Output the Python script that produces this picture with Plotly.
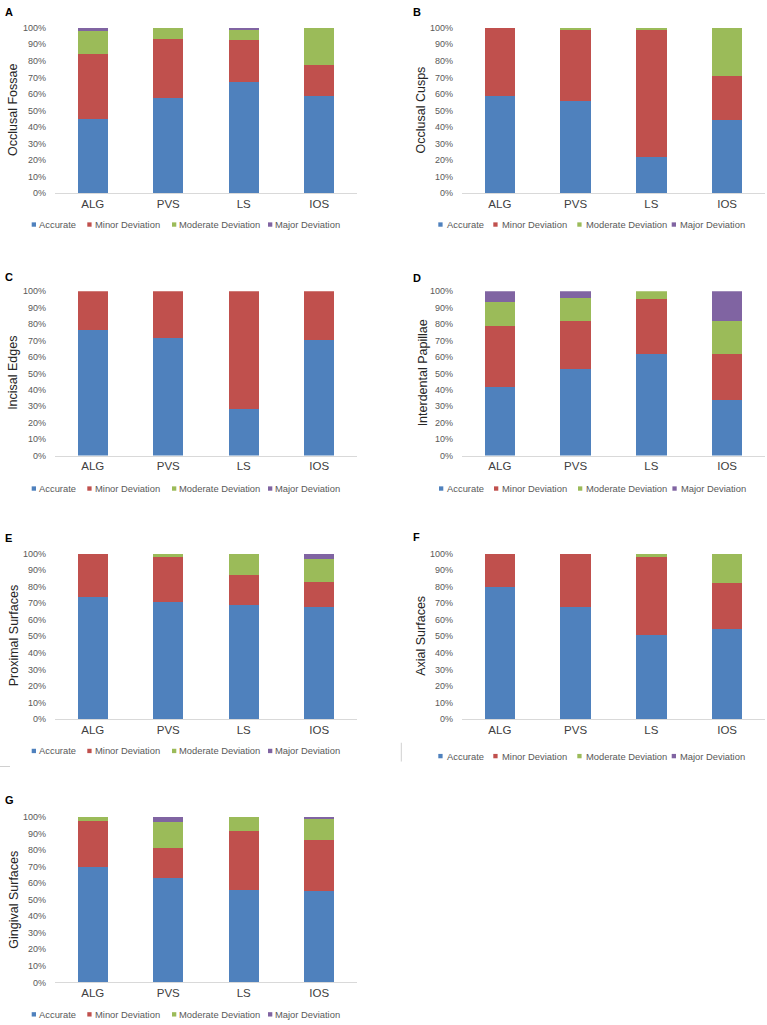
import plotly.graph_objects as go

W, H = 767, 1025

groups = ["ALG", "PVS", "LS", "IOS"]
series = ["Accurate", "Minor Deviation", "Moderate Deviation", "Major Deviation"]
colors = ["#4F81BD", "#C0504D", "#9BBB59", "#8064A2"]
y_ticks = [0, 10, 20, 30, 40, 50, 60, 70, 80, 90, 100]

# Panel data (percent), order: Accurate, Minor, Moderate, Major
occlusal_fossae = [[45, 57.5, 67.5, 58.5], [39, 36, 25, 19], [14, 6.5, 6.5, 22.5], [2, 0, 1, 0]]
occlusal_cusps = [[58.5, 56, 22, 44.5], [41.5, 43, 77, 26.5], [0, 1, 1, 29], [0, 0, 0, 0]]
incisal_edges = [[76.5, 71.5, 28.5, 70], [23.5, 28.5, 71.5, 30], [0, 0, 0, 0], [0, 0, 0, 0]]
interdental_papillae = [[42, 52.5, 62, 33.5], [37, 29.5, 33.5, 28], [14.5, 14, 4.5, 20.5], [6.5, 4, 0, 18]]
proximal_surfaces = [[74, 71, 69, 68], [26, 27, 18, 15], [0, 2, 13, 14], [0, 0, 0, 3]]
axial_surfaces = [[80, 68, 51, 54.5], [20, 32, 47, 28], [0, 0, 2, 17.5], [0, 0, 0, 0]]
gingival_surfaces = [[69.5, 63, 56, 55], [28, 18, 35.5, 31], [2.5, 16, 8.5, 12.5], [0, 3, 0, 1.5]]

panel_letters = ["A", "B", "C", "D", "E", "F", "G"]
panel_titles = ["Occlusal Fossae", "Occlusal Cusps", "Incisal Edges", "Interdental Papillae",
                "Proximal Surfaces", "Axial Surfaces", "Gingival Surfaces"]
panel_data = [occlusal_fossae, occlusal_cusps, incisal_edges, interdental_papillae,
              proximal_surfaces, axial_surfaces, gingival_surfaces]

# layout (pixels): plot x0, x1, y_top, y_bottom
panel_boxes = [
    (55, 357, 23, 190), (462, 765, 23, 190),
    (55, 357, 289, 455), (462, 765, 289, 455),
    (55, 357, 554, 721), (462, 765, 554, 721),
    (55, 357, 820, 987),
]
letter_pos = [(3, 7), (411, 7), (3, 275), (411, 276), (3, 538), (411, 537), (3, 803)]
ytitle_x = [13.5, 421, 13.5, 423, 14, 421.5, 14]
legend_pos = [(31.7, 221.7, 0), (438.3, 221.7, 1), (31.7, 488.3, 0), (439, 488.3, 1),
              (31.7, 753.3, 0), (438.3, 758.5, 1), (31.7, 1019.3, 0)]
legend_offsets = [[0, 55.6, 140.3, 236.3], [0, 55, 139, 233.4]]
legend_text_gap = [1.0, 2.0]


def px(x):
    return x / W


def py(y):
    return 1 - y / H


fig = go.Figure()
annotations = []
shapes = []
font = "Arial, Liberation Sans, sans-serif"

for i, data in enumerate(panel_data):
    n = i + 1
    xa = "x" if n == 1 else f"x{n}"
    ya = "y" if n == 1 else f"y{n}"
    for s, name in enumerate(series):
        fig.add_trace(go.Bar(
            x=groups, y=data[s], name=name, marker=dict(color=colors[s], line=dict(width=0)),
            xaxis=xa, yaxis=ya, showlegend=False, width=0.4,
        ))
    x0, x1, yt, yb = panel_boxes[i]
    xkey = "xaxis" if n == 1 else f"xaxis{n}"
    ykey = "yaxis" if n == 1 else f"yaxis{n}"
    fig.layout[xkey] = dict(
        domain=[px(x0), px(x1)], anchor=ya, range=[-0.5, 3.5],
        showline=True, linecolor="#D9D9D9", linewidth=1, showgrid=False, zeroline=False,
        ticks="", tickfont=dict(family=font, size=11.5, color="#404040"), ticklabelstandoff=0,
        fixedrange=True,
    )
    fig.layout[ykey] = dict(
        domain=[py(yb), py(yt)], anchor=xa, range=[0, 100],
        tickvals=y_ticks, ticktext=[f"{v}%" for v in y_ticks],
        showline=False, showgrid=False, zeroline=False, ticks="",
        tickfont=dict(family=font, size=9, color="#595959"), ticklabelstandoff=8,
        fixedrange=True,
    )
    # panel letter
    lx, ly = letter_pos[i]
    annotations.append(dict(text=f"<b>{panel_letters[i]}</b>", x=px(lx), y=py(ly), xref="paper", yref="paper",
                            xanchor="left", yanchor="middle", showarrow=False,
                            font=dict(family=font, size=11, color="#000000")))
    # y-axis title
    annotations.append(dict(text=panel_titles[i], x=px(ytitle_x[i]), y=py((yt + yb) / 2),
                            xref="paper", yref="paper", textangle=-90, xanchor="center", yanchor="middle",
                            showarrow=False, font=dict(family=font, size=12.5, color="#262626")))
    # legend
    lgx, lgy, kind = legend_pos[i]
    for s, name in enumerate(series):
        sx = lgx + legend_offsets[kind][s]
        shapes.append(dict(type="rect", xref="paper", yref="paper",
                           x0=px(sx), x1=px(sx + 4.3), y0=py(lgy + 2.2), y1=py(lgy - 2.2),
                           fillcolor=colors[s], line=dict(width=0)))
        annotations.append(dict(text=name, x=px(sx + 4.3 + legend_text_gap[kind]), y=py(lgy),
                                xref="paper", yref="paper", xanchor="left", yanchor="middle",
                                showarrow=False, font=dict(family=font, size=9.4, color="#595959")))

# small stray rule marks from the source figure
shapes.append(dict(type="line", xref="paper", yref="paper", x0=px(0), x1=px(10), y0=py(769), y1=py(769),
                   line=dict(color="#D0D0D0", width=1)))
shapes.append(dict(type="line", xref="paper", yref="paper", x0=px(401.3), x1=px(401.3), y0=py(745), y1=py(764),
                   line=dict(color="#D0D0D0", width=1)))

fig.update_layout(
    width=W, height=H, margin=dict(l=0, r=0, t=0, b=0),
    paper_bgcolor="white", plot_bgcolor="white",
    barmode="stack", bargap=0.6, showlegend=False,
    annotations=annotations, shapes=shapes,
    font=dict(family=font),
)

fig.write_html("out.html", config={"displayModeBar": False},
               post_script="document.body.style.margin='0';document.body.style.padding='0';")
